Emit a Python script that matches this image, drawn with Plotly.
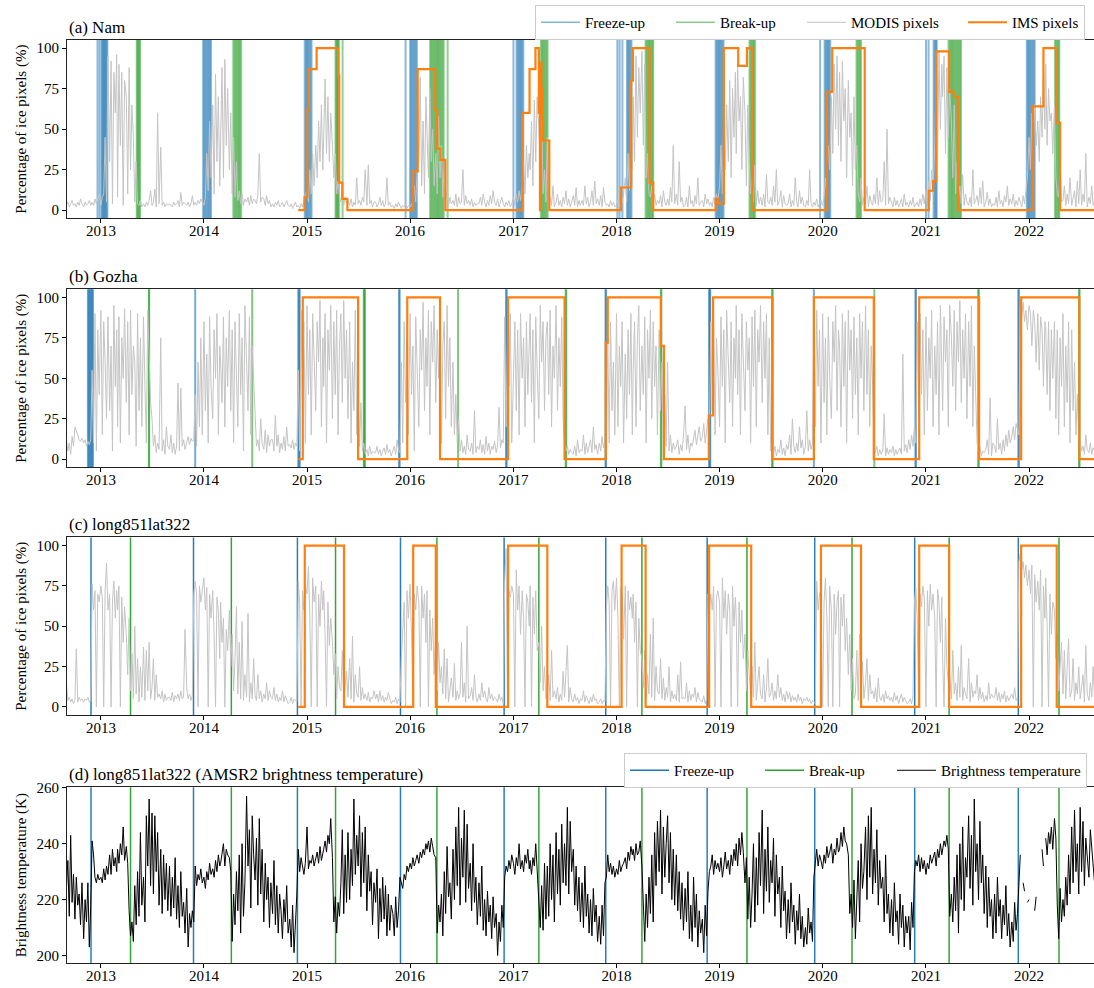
import pandas as pd
import plotly.graph_objects as go

SERIF = "Liberation Serif, Times New Roman, serif"
BLUE = "#1f77b4"
GREEN = "#2ca02c"
ORANGE = "#ff7f0e"
GREY = "#c4c4c4"

# ---------------- sampling grid (6 readings per month, Sep 2012 - Aug 2022) -------------
MONTH_STARTS = pd.date_range("2012-09-01", "2022-08-01", freq="MS")
SAMPLE_DAYS = [1, 6, 11, 16, 21, 26]
GRID = [m + pd.Timedelta(days=d - 1) for m in MONTH_STARTS for d in SAMPLE_DAYS]

# ---------------- (a) Nam : MODIS ice pixels (%) one row per Sep-Aug season -------------
nam_modis = [
    [3,5,2,4,6,3, 4,2,5,3,7,4, 2,5,3,4,6,3, 5,3,7,4,8,10, 3,8,10,45,5,95, 30,92,4,85,60,96, 8,90,40,85,3,80, 70,10,88,25,65,45, 5,30,4,3,6,2, 4,2,5,3,6,12, 3,5,13,2,60,4, 39,3,5,2,4,3],
    [4,3,2,5,3,4, 6,2,11,3,5,4, 3,5,2,4,9,3, 5,3,6,4,7,5, 3,8,35,12,55,20, 65,10,84,30,70,15, 50,88,20,93,40,75, 25,60,10,45,8,30, 6,12,4,10,3,7, 5,8,3,9,4,7, 6,4,10,35,5,8, 7,3,9,4,6,2],
    [4,2,5,3,6,2, 3,5,2,4,6,3, 2,4,1,3,5,2, 3,1,4,2,6,9, 12,5,25,10,35,15, 40,20,55,30,65,25, 45,81,35,70,30,60, 40,20,35,10,18,8, 5,15,3,8,4,6, 3,7,2,5,3,20, 4,6,3,8,5,25, 3,28,4,6,2,5],
    [5,2,4,8,3,6, 2,4,20,3,5,2, 3,1,4,2,5,3, 1,3,2,4,1,3, 2,4,1,15,5,24, 30,82,15,55,10,70, 40,20,75,30,50,15, 35,10,58,20,40,8, 30,5,12,3,8,4, 6,3,10,2,8,4, 5,25,3,9,4,6, 3,7,2,5,3,4],
    [4,8,3,10,5,2, 6,3,9,4,12,5, 3,7,2,5,8,4, 2,5,3,6,2,4, 8,3,10,5,12,6, 15,30,10,40,20,35, 25,55,15,68,30,70, 50,20,65,10,25,5, 45,4,8,3,15,2, 5,10,3,6,2,8, 4,12,3,7,2,5, 9,3,14,2,6,3],
    [6,3,15,4,8,2, 5,12,3,18,4,7, 3,9,2,14,5,3, 4,2,6,3,5,2, 3,6,2,8,4,10, 20,5,35,12,50,25, 70,30,95,45,88,60, 98,40,90,20,35,10, 8,15,4,10,3,6, 4,9,2,12,5,3, 7,3,14,5,40,4, 10,3,30,5,8,2],
    [3,8,2,15,4,6, 2,9,4,20,3,5, 6,2,10,4,7,3, 5,2,8,4,10,6, 15,40,10,55,25,65, 30,80,20,75,45,85, 35,90,55,70,25,82, 60,15,65,30,10,20, 5,28,3,12,4,8, 3,10,2,22,5,4, 8,3,15,5,25,3, 6,12,2,9,4,3],
    [4,10,2,6,3,20, 5,2,12,4,8,3, 2,6,3,25,4,2, 5,3,7,2,4,6, 3,8,20,10,40,25, 70,35,90,50,95,40, 85,30,92,55,75,20, 80,45,60,15,70,25, 40,10,5,20,3,8, 4,15,2,9,5,3, 10,4,20,3,12,5, 6,30,3,50,4,8],
    [5,2,8,3,6,2, 4,7,2,10,3,5, 2,6,3,8,2,4, 5,2,7,3,10,4, 12,3,18,6,25,10, 40,85,30,98,50,90, 70,95,35,88,45,75, 55,20,65,10,30,8, 15,4,22,3,10,5, 3,8,2,25,4,6, 9,3,14,4,18,2, 5,11,3,7,2,4],
    [3,8,2,12,4,6, 2,9,5,15,3,7, 4,10,2,6,3,8, 5,2,9,4,12,20, 45,25,60,35,65,40, 55,30,70,45,85,50, 90,40,75,55,60,35, 65,20,10,8,30,5, 6,15,3,10,4,20, 3,8,12,2,18,4, 25,3,10,5,35,2, 8,4,15,3,6,2],
]
nam_ims_dates = ["2014-12-01", "2014-12-23", "2015-01-02", "2015-01-06", "2015-02-04", "2015-04-21", "2015-04-25", "2015-05-06", "2015-05-24",
                 "2016-01-12", "2016-01-28", "2016-03-30", "2016-04-06", "2016-04-17", "2016-05-05",
                 "2017-02-02", "2017-02-27", "2017-03-20", "2017-04-01", "2017-04-05", "2017-04-07", "2017-04-10", "2017-04-13", "2017-04-16", "2017-05-08",
                 "2018-01-17", "2018-02-22", "2018-02-28", "2018-04-28", "2018-05-11",
                 "2018-12-18", "2018-12-28", "2019-01-16", "2019-03-08", "2019-04-08", "2019-04-27",
                 "2020-01-17", "2020-02-04", "2020-05-29",
                 "2021-01-11", "2021-01-26", "2021-02-06", "2021-03-24", "2021-04-11", "2021-04-24",
                 "2022-01-15", "2022-02-21", "2022-04-09", "2022-04-21", "2022-08-31"]
nam_ims_vals = [0, 8, 62, 87, 100, 83, 17, 7, 0,
                24, 87, 62, 38, 31, 0,
                60, 87, 100, 60, 0, 91, 75, 56, 43, 0,
                14, 80, 100, 17, 0,
                7, 4, 100, 89, 100, 0,
                73, 100, 0,
                12, 18, 98, 73, 70, 0,
                64, 100, 54, 0, 0]
nam_freeze = ["2012-12-20", "2012-12-27", "2013-01-03", "2013-01-06", "2013-01-09", "2013-01-12", "2013-01-15", "2013-01-18", "2013-01-21", "2013-01-24",
              "2013-12-29", "2014-01-02", "2014-01-06", "2014-01-10", "2014-01-14", "2014-01-18", "2014-01-22", "2014-01-26",
              "2014-12-24", "2014-12-28", "2015-01-01", "2015-01-05", "2015-01-09", "2015-01-13", "2015-01-17",
              "2015-12-16", "2016-01-01", "2016-01-05", "2016-01-09", "2016-01-13", "2016-01-17", "2016-01-21", "2016-01-25",
              "2017-01-01", "2017-01-12", "2017-01-16", "2017-01-20", "2017-01-24", "2017-01-28", "2017-02-01", "2017-02-05",
              "2018-01-04", "2018-01-12", "2018-01-22", "2018-02-07", "2018-02-11", "2018-02-15", "2018-02-19", "2018-02-23",
              "2018-12-18", "2018-12-22", "2018-12-26", "2018-12-30", "2019-01-03", "2019-01-07", "2019-01-11", "2019-01-15",
              "2019-12-23", "2020-01-08", "2020-01-12", "2020-01-16", "2020-01-20", "2020-01-24", "2020-01-28",
              "2021-01-01", "2021-01-10", "2021-01-28", "2021-02-01", "2021-02-05", "2021-02-08",
              "2021-12-24", "2021-12-28", "2022-01-01", "2022-01-05", "2022-01-09", "2022-01-13", "2022-01-17", "2022-01-21"]
nam_break = ["2013-05-08", "2013-05-11", "2013-05-14", "2013-05-17", "2013-05-20",
             "2014-04-15", "2014-04-19", "2014-04-23", "2014-04-27", "2014-05-01", "2014-05-05", "2014-05-09", "2014-05-13",
             "2015-04-12", "2015-04-15", "2015-04-18", "2015-04-21", "2015-04-24", "2015-05-07",
             "2016-03-12", "2016-03-16", "2016-03-20", "2016-03-24", "2016-03-28", "2016-04-01", "2016-04-05", "2016-04-09",
             "2016-04-13", "2016-04-17", "2016-04-21", "2016-04-25", "2016-04-29", "2016-05-13",
             "2017-04-08", "2017-04-12", "2017-04-16", "2017-04-20", "2017-04-24", "2017-04-28", "2017-05-02",
             "2018-04-14", "2018-04-18", "2018-04-22", "2018-04-26", "2018-04-30", "2018-05-04", "2018-05-08", "2018-05-11",
             "2019-04-17", "2019-04-21", "2019-04-25", "2019-04-29", "2019-05-03", "2019-05-07",
             "2020-04-30", "2020-05-04", "2020-05-08", "2020-05-12", "2020-05-16",
             "2021-03-22", "2021-03-26", "2021-03-30", "2021-04-03", "2021-04-07", "2021-04-11", "2021-04-15", "2021-04-19",
             "2021-04-23", "2021-04-27", "2021-05-01", "2021-05-05",
             "2022-04-03", "2022-04-07", "2022-04-11", "2022-04-15", "2022-04-18"]

# ---------------- (b) Gozha -------------
gozha_modis = [
    [12,5,10,3,14,8, 20,18,15,12,11,13, 10,12,8,11,9,12, 55,10,90,5,80,40, 92,15,85,60,25,88, 30,70,5,95,45,80, 20,88,10,75,50,93, 35,85,15,92,40,70, 60,8,90,30,75,20, 88,45,10,92,55,35, 25,8,15,4,10,6, 75,5,12,3,20,8],
    [6,15,4,10,3,8, 47,5,44,8,12,6, 10,14,9,13,11,12, 40,8,60,20,75,15, 85,30,65,10,88,45, 25,80,50,90,15,70, 60,35,88,20,75,45, 92,30,80,10,85,55, 20,90,40,75,5,95, 60,30,88,15,70,45, 20,8,12,5,25,10, 6,18,4,15,8,12],
    [12,5,27,8,15,4, 10,6,14,5,20,8, 9,7,12,6,10,8, 55,5,92,30,85,10, 95,40,80,15,90,55, 30,85,60,98,20,75, 45,90,10,80,55,95, 25,85,40,92,15,70, 90,35,98,50,80,25, 85,10,60,30,92,15, 40,8,35,5,10,3, 6,2,8,3,5,4],
    [4,8,3,6,2,5, 7,3,9,4,6,2, 5,8,3,12,6,4, 60,10,85,35,75,15, 90,40,70,5,88,50, 20,80,55,97,30,75, 45,92,15,85,60,95, 35,80,50,90,10,70, 85,25,95,45,75,20, 60,15,40,10,25,5, 12,4,8,3,15,6, 5,10,3,30,4,8],
    [6,12,4,9,3,14, 5,10,3,8,6,11, 4,9,32,7,12,10, 88,20,75,45,90,10, 60,85,30,80,15,90, 50,75,20,85,40,70, 90,35,80,10,88,55, 25,95,60,85,30,75, 85,40,92,20,70,50, 95,30,75,45,88,25, 10,5,8,3,6,4, 3,8,2,12,4,6],
    [5,15,3,10,4,8, 12,4,20,6,9,3, 10,5,14,7,12,6, 75,10,85,30,60,15, 90,20,70,45,85,10, 65,25,80,40,90,15, 55,85,20,75,95,30, 70,40,88,10,80,50, 92,25,85,45,70,15, 80,30,60,10,40,8, 60,5,15,4,10,6, 8,12,3,9,5,14],
    [33,6,15,4,10,8, 12,18,9,15,20,11, 14,22,10,18,25,20, 85,30,90,15,75,55, 20,88,45,80,10,92, 60,35,85,20,75,50, 95,40,80,15,90,60, 30,85,55,75,10,88, 45,92,20,80,60,95, 35,85,50,90,15,75, 5,10,3,8,2,6, 4,12,3,7,2,9],
    [6,15,3,25,8,4, 10,5,20,7,12,3, 8,30,5,12,6,10, 85,20,92,45,80,10, 90,35,75,15,88,50, 25,85,60,95,30,80, 70,20,90,45,85,10, 92,55,80,25,88,40, 75,15,90,50,85,30, 95,40,80,20,70,45, 10,4,8,2,6,3, 5,28,2,7,3,6],
    [4,8,2,6,3,5, 7,3,65,5,9,4, 12,6,15,8,20,10, 85,25,90,40,80,15, 88,30,75,50,92,20, 70,40,85,15,95,55, 30,88,60,80,20,95, 75,45,92,30,85,60, 98,35,80,50,90,25, 85,45,95,20,70,40, 10,3,8,2,5,4, 6,12,3,38,2,10],
    [8,4,25,6,10,3, 12,5,15,8,18,10, 14,20,12,22,18,15, 95,88,97,85,92,80, 95,90,70,92,85,60, 90,55,88,80,45,85, 82,40,85,30,80,50, 85,25,80,15,75,45, 90,20,70,35,85,10, 80,30,60,15,40,10, 12,5,8,3,15,6, 4,10,3,7,5,9],
]
gozha_ims_dates = ["2014-12-01", "2014-12-17", "2015-07-01", "2015-12-22", "2016-04-16", "2016-12-13", "2017-07-01",
                   "2017-11-24", "2017-12-01", "2018-06-07", "2018-06-18", "2018-11-24", "2018-12-09", "2019-07-07",
                   "2019-12-01", "2020-06-30", "2020-12-08", "2021-07-08", "2021-12-04", "2022-06-28", "2022-08-31"]
gozha_ims_vals = [0, 100, 0, 100, 0, 100, 0, 72, 100, 70, 0, 27, 100, 0, 100, 0, 100, 0, 100, 0, 0]
gozha_freeze = ["2012-11-16", "2012-11-19", "2012-11-22", "2012-11-25", "2012-11-28", "2012-12-01", "2012-12-04",
                "2013-12-01", "2014-12-01", "2014-12-04", "2014-12-06", "2015-11-23", "2015-11-25",
                "2016-12-06", "2016-12-08", "2017-11-23", "2017-11-25", "2018-11-25", "2018-11-27", "2018-11-29",
                "2019-12-01", "2020-11-25", "2020-11-26", "2021-11-24", "2021-11-26"]
gozha_break = ["2013-06-20", "2013-06-21", "2014-06-21", "2015-07-21", "2015-07-23", "2015-07-25", "2016-06-19",
               "2017-07-05", "2017-07-07", "2018-06-07", "2018-06-09", "2019-07-06", "2019-07-08", "2020-07-02",
               "2021-07-05", "2021-07-07", "2022-06-27", "2022-06-29"]

# ---------------- (c) long851lat322 -------------
pix_modis = [
    [15,4,6,3,5,2, 4,36,3,6,4,5, 3,5,4,6,3,4, 76,60,72,0,70,65, 75,68,0,72,89,60, 70,0,65,78,55,72, 60,75,0,68,40,62, 45,20,55,10,33,5, 50,8,30,3,25,6, 37,4,35,10,40,5, 12,30,4,20,6,8, 5,10,3,8,4,6],
    [6,4,9,3,7,5, 8,4,10,5,6,48, 12,5,8,4,7,70, 78,70,0,75,65,72, 80,60,74,0,70,55, 72,45,0,68,60,30, 65,40,55,0,48,35, 60,25,45,10,30,62, 8,40,5,53,4,20, 6,58,3,15,5,30, 7,4,20,5,10,3, 8,5,15,4,10,6],
    [5,12,4,8,3,6, 4,10,3,7,5,2, 3,6,2,5,4,3, 78,65,0,72,60,75, 70,87,55,0,80,65, 75,0,70,50,78,60, 72,45,0,65,38,55, 40,20,33,5,25,12, 10,35,4,15,22,6, 30,5,44,3,20,8, 6,25,4,12,5,8, 4,9,3,6,5,10],
    [5,8,3,10,4,7, 3,6,4,9,5,2, 4,3,6,2,5,3, 30,50,65,0,72,55, 76,45,0,70,60,75, 65,0,75,55,70,40, 72,0,60,35,55,20, 45,10,40,15,25,8, 36,5,30,3,12,18, 6,27,4,10,5,8, 40,6,15,3,50,5, 7,12,4,20,6,3],
    [8,4,15,6,10,5, 3,12,5,8,4,6, 5,3,8,4,6,2, 78,98,0,72,68,75, 70,0,85,60,75,45, 72,55,0,70,65,50, 75,0,68,45,72,35, 40,15,50,10,25,5, 8,20,4,35,6,10, 5,12,3,8,4,22, 6,20,38,3,12,5, 3,8,4,6,2,5],
    [4,10,3,7,5,2, 6,3,8,4,5,2, 3,5,2,4,3,60, 75,65,0,72,78,60, 80,55,0,74,70,42, 75,0,72,60,68,55, 70,40,65,0,55,35, 30,12,35,5,20,8, 45,6,55,4,25,10, 8,30,5,18,4,12, 6,25,3,10,5,8, 4,20,3,28,5,6],
    [5,15,3,10,4,8, 6,12,3,9,5,4, 3,7,2,5,70,60, 70,60,75,0,68,72, 65,0,80,55,72,45, 70,60,0,75,50,68, 55,0,65,40,60,30, 45,10,35,20,8,25, 6,40,4,15,25,8, 5,20,3,12,30,6, 8,15,4,10,5,20, 6,12,4,8,3,10],
    [5,9,3,7,4,6, 3,8,4,6,2,5, 4,6,3,5,2,4, 3,2,78,60,70,72, 0,65,80,55,0,75, 60,0,70,45,65,72, 0,68,50,70,35,55, 20,45,10,30,5,8, 35,4,45,6,28,5, 15,30,4,20,8,10, 5,12,3,18,6,4, 8,3,10,5,7,4],
    [6,3,9,4,7,2, 5,8,3,6,4,2, 3,5,2,7,65,74, 55,0,70,62,75,68, 0,72,50,76,60,70, 55,0,73,65,40,68, 30,0,55,25,15,20, 5,35,8,15,4,25, 6,38,4,12,8,5, 30,3,15,6,10,8, 20,4,12,5,9,3, 7,4,15,5,8,6],
    [6,12,4,9,3,8, 5,10,3,7,4,6, 8,5,12,4,6,90, 95,85,90,80,88,75, 85,70,88,0,82,65, 78,60,85,0,75,55, 80,50,0,70,45,65, 60,30,45,10,25,40, 8,35,5,20,42,6, 10,30,4,15,8,25, 5,12,20,3,38,8, 4,15,6,25,5,10],
]
pix_ims_dates = ["2014-12-01", "2014-12-24", "2015-05-12", "2016-01-12", "2016-04-01", "2016-12-13", "2017-05-01",
                 "2018-01-19", "2018-04-14", "2018-11-25", "2019-04-23", "2019-12-26", "2020-05-16", "2020-12-08",
                 "2021-03-24", "2021-12-04", "2022-04-09", "2022-08-31"]
pix_ims_vals = [0, 100, 0, 100, 0, 100, 0, 100, 0, 100, 0, 100, 0, 100, 0, 100, 0, 0]
pix_freeze = ["2012-11-27", "2013-11-25", "2014-11-28", "2015-11-28", "2016-11-29", "2017-11-24", "2018-11-18",
              "2019-12-04", "2020-11-22", "2021-11-24"]
pix_break = ["2013-04-16", "2014-04-08", "2015-04-12", "2016-04-05", "2017-04-01", "2018-04-01", "2019-04-08",
             "2020-04-14", "2021-03-24", "2022-04-17"]

# ---------------- (d) AMSR2 brightness temperature (K) -------------
N = None
pix_tb = [
    [224,234,214,243,219,229, 213,228,218,222,211,226, 206,220,212,226,203,218, 241,236,228,226,229,227, 228,226,231,227,232,229, 236,229,238,232,235,230, 238,233,240,236,246,234, 239,233,216,207,212,205, 225,211,230,214,244,218, 228,212,250,232,256,225, 251,222,250,230,244,218, 238,215,236,220,233,216],
    [232,214,228,217,235,213, 225,210,230,214,219,208, 224,203,215,210,216,212, 232,225,229,227,231,226, 228,224,230,227,233,229, 231,228,234,230,236,232, 233,237,240,232,238,236, 235,230,205,222,211,230, 216,236,208,240,214,226, 257,232,245,217,250,236, 227,242,218,249,222,238, 212,233,220,228,210,226],
    [215,234,211,225,208,222, 216,206,220,212,225,208, 213,203,218,201,210,222, 238,230,235,232,229,233, 246,231,234,233,236,232, 235,237,233,239,234,236, 238,241,237,243,240,249, 235,212,221,208,219,214, 226,245,215,236,219,244, 220,238,225,256,229,243, 232,250,221,244,226,246, 216,236,223,230,211,226],
    [219,231,206,224,212,228, 213,225,207,222,209,218, 215,207,221,210,216,228, 226,224,229,227,232,230, 233,231,235,232,234,236, 233,237,235,238,236,240, 238,241,237,242,239,236, 235,208,218,212,222,207, 230,215,239,221,226,213, 238,220,246,225,253,218, 242,228,252,219,247,224, 233,216,240,219,228,211],
    [226,214,232,209,220,207, 223,212,218,206,221,210, 215,200,212,205,218,210, 228,232,230,234,231,236, 233,229,235,232,240,231, 234,230,236,233,238,231, 234,229,235,232,240,231, 220,210,225,209,233,213, 232,214,240,220,236,212, 244,222,238,218,247,226, 240,225,253,222,248,230, 238,218,232,216,228,212],
    [226,210,232,214,222,208, 220,207,224,212,218,205, 214,204,218,207,226,228, 236,230,233,229,232,228, 231,229,234,230,232,233, 235,231,237,234,239,236, 238,234,240,236,237,241, 232,214,205,222,210,228, 215,236,212,244,225,248, 230,252,222,246,228,240, 250,226,244,220,238,218, 236,216,230,213,226,209],
    [224,212,230,206,218,205, 228,210,222,203,216,208, 213,201,218,207,223,230, 232,236,229,234,231,233, 230,235,228,232,237,231, 234,229,236,232,238,234, 240,232,242,236,244,237, 226,235,213,228,210,222, 240,212,235,218,244,225, 252,215,238,223,246,219, 234,226,242,214,236,222, 228,210,232,216,223,206],
    [220,208,226,212,218,204, 216,209,222,206,214,203, 210,204,217,208,212,205, 228,233,238,232,236,234, 231,236,233,239,235,237, 240,233,238,236,242,237, 238,244,239,246,241,240, 236,215,222,210,227,206, 218,234,212,240,224,230, 246,220,250,228,253,222, 238,226,245,218,234,224, 228,212,236,215,222,208],
    [220,207,226,212,216,204, 222,210,218,203,214,208, 214,202,219,210,230,234, 232,236,230,235,231,234, 229,233,231,236,233,235, 237,232,238,235,240,236, 238,241,239,243,238,214, 222,212,228,216,236,208, 240,220,246,216,235,228, 250,224,243,218,256,230, 240,220,248,226,236,215, 232,210,228,214,220,206],
    [222,208,228,214,220,206, 218,211,225,207,215,203, 212,205,219,209,215,228, 236,N,226,223,N,219, 220,N,228,N,216,221, N,234,N,238,232,N, 242,236,244,240,246,238, 249,242,218,206,224,212, 220,214,228,218,236,222, 246,226,252,230,240,222, 253,230,248,225,242,236, 228,245,238,232,226,240],
]

TITLES = ["(a) Nam", "(b) Gozha", "(c) long851lat322", "(d) long851lat322 (AMSR2 brightness temperature)"]
YTITLES = ["Percentage of ice pixels (%)"] * 3 + ["Brightness temperature (K)"]
PCT_TICKS = [0, 25, 50, 75, 100]
TB_TICKS = [200, 220, 240, 260]

# ---------------- layout geometry ----------------
DOMAINS = [[0.8068, 1.0], [0.5371, 0.7299], [0.2687, 0.4610], [0.0, 0.1904]]
X_RANGE = ["2012-09-03", "2022-08-19"]


def season_series(rows):
    xs, ys = [], []
    for i, row in enumerate(rows):
        for d, v in zip(GRID[i * 72:(i + 1) * 72], row):
            xs.append(d)
            ys.append(v)
    return xs, ys


def ax(n, kind):
    return kind if n == 1 else f"{kind}{n}"


fig = go.Figure()

# legend handles (panel a legend)
fig.add_trace(go.Scatter(x=[None], y=[None], mode="lines", name="Freeze-up", legend="legend",
                         line=dict(color="rgba(31,119,180,0.55)", width=1.5), legendwidth=81,
                         xaxis="x", yaxis="y", hoverinfo="skip"))
fig.add_trace(go.Scatter(x=[None], y=[None], mode="lines", name="Break-up", legend="legend",
                         line=dict(color="rgba(44,160,44,0.55)", width=1.5), legendwidth=77,
                         xaxis="x", yaxis="y", hoverinfo="skip"))

modis_sets = [nam_modis, gozha_modis, pix_modis]
ims_sets = [(nam_ims_dates, nam_ims_vals), (gozha_ims_dates, gozha_ims_vals), (pix_ims_dates, pix_ims_vals)]
for n in (1, 2, 3):
    xs, ys = season_series(modis_sets[n - 1])
    fig.add_trace(go.Scatter(x=xs, y=ys, mode="lines", name="MODIS pixels", legend="legend",
                             showlegend=(n == 1), legendwidth=107,
                             line=dict(color=GREY, width=1), xaxis=ax(n, "x"), yaxis=ax(n, "y"),
                             hoverinfo="skip"))
for n in (1, 2, 3):
    d, v = ims_sets[n - 1]
    fig.add_trace(go.Scatter(x=d, y=v, mode="lines", name="IMS pixels", legend="legend",
                             showlegend=(n == 1), line=dict(color=ORANGE, width=2.2, shape="hv"),
                             xaxis=ax(n, "x"), yaxis=ax(n, "y"), hoverinfo="skip"))

# panel d
fig.add_trace(go.Scatter(x=[None], y=[None], mode="lines", name="Freeze-up", legend="legend2",
                         line=dict(color=BLUE, width=1.5), legendwidth=81, xaxis="x4", yaxis="y4",
                         hoverinfo="skip"))
fig.add_trace(go.Scatter(x=[None], y=[None], mode="lines", name="Break-up", legend="legend2",
                         line=dict(color=GREEN, width=1.5), legendwidth=78, xaxis="x4", yaxis="y4",
                         hoverinfo="skip"))
xs, ys = season_series(pix_tb)
fig.add_trace(go.Scatter(x=xs, y=ys, mode="lines", name="Brightness temperature", legend="legend2",
                         line=dict(color="black", width=1), xaxis="x4", yaxis="y4", hoverinfo="skip"))

# freeze-up / break-up vertical lines
shapes = []


def add_vlines(dates, n, color, width, opacity):
    for d in dates:
        shapes.append(dict(type="line", xref=ax(n, "x"), yref=ax(n, "y") + " domain",
                           x0=d, x1=d, y0=0, y1=1, layer="below", opacity=opacity,
                           line=dict(color=color, width=width)))


add_vlines(nam_freeze, 1, BLUE, 2, 0.5)
add_vlines(nam_break, 1, GREEN, 2, 0.5)
add_vlines(gozha_freeze, 2, BLUE, 2, 0.6)
add_vlines(gozha_break, 2, GREEN, 2, 0.6)
add_vlines(pix_freeze, 3, BLUE, 1.5, 0.95)
add_vlines(pix_break, 3, GREEN, 1.5, 0.95)
add_vlines(pix_freeze, 4, BLUE, 1.5, 0.95)
add_vlines(pix_break, 4, GREEN, 1.5, 0.95)

annotations = []
for n in range(1, 5):
    annotations.append(dict(text=TITLES[n - 1], xref="paper", x=0, xanchor="left",
                            yref=ax(n, "y") + " domain", y=1, yanchor="bottom", yshift=1,
                            showarrow=False, font=dict(family=SERIF, size=17, color="black")))

layout = dict(
    width=1094, height=988,
    margin=dict(l=67, r=0, t=40, b=25, autoexpand=False),
    paper_bgcolor="white", plot_bgcolor="white",
    font=dict(family=SERIF, size=15, color="black"),
    shapes=shapes, annotations=annotations, showlegend=True,
    legend=dict(orientation="h", x=0.4557, xanchor="left", y=1.0379, yanchor="top",
                bgcolor="white", bordercolor="#cccccc", borderwidth=1, itemwidth=39,
                font=dict(family=SERIF, size=15)),
    legend2=dict(orientation="h", x=0.5424, xanchor="left", y=0.2275, yanchor="top",
                 bgcolor="white", bordercolor="#cccccc", borderwidth=1, itemwidth=39,
                 font=dict(family=SERIF, size=15)),
)
for n in range(1, 5):
    layout[ax(n, "xaxis")] = dict(
        domain=[0, 1], anchor=ax(n, "y"), type="date", range=X_RANGE, automargin=False,
        tick0="2013-01-01", dtick="M12", tickformat="%Y", ticks="outside", ticklen=4,
        tickwidth=1, tickcolor="black", showline=True, linecolor="#222", linewidth=1.2,
        mirror=True, showgrid=False, zeroline=False, tickfont=dict(size=15),
        ticklabelstandoff=-5)
    pct = n < 4
    layout[ax(n, "yaxis")] = dict(
        domain=DOMAINS[n - 1], anchor=ax(n, "x"), automargin=False,
        range=[-5, 105] if pct else [197.3, 260.2],
        tickvals=PCT_TICKS if pct else TB_TICKS,
        ticks="outside", ticklen=4, tickwidth=1, tickcolor="black",
        showline=True, linecolor="#222", linewidth=1.2, showgrid=False, zeroline=False,
        tickfont=dict(size=15),
        title=dict(text=YTITLES[n - 1], standoff=6, font=dict(size=15)))

fig.update_layout(**layout)
fig.write_html("out.html", config={"displayModeBar": False},
               post_script="document.body.style.margin='0px';document.body.style.overflow='hidden';")
